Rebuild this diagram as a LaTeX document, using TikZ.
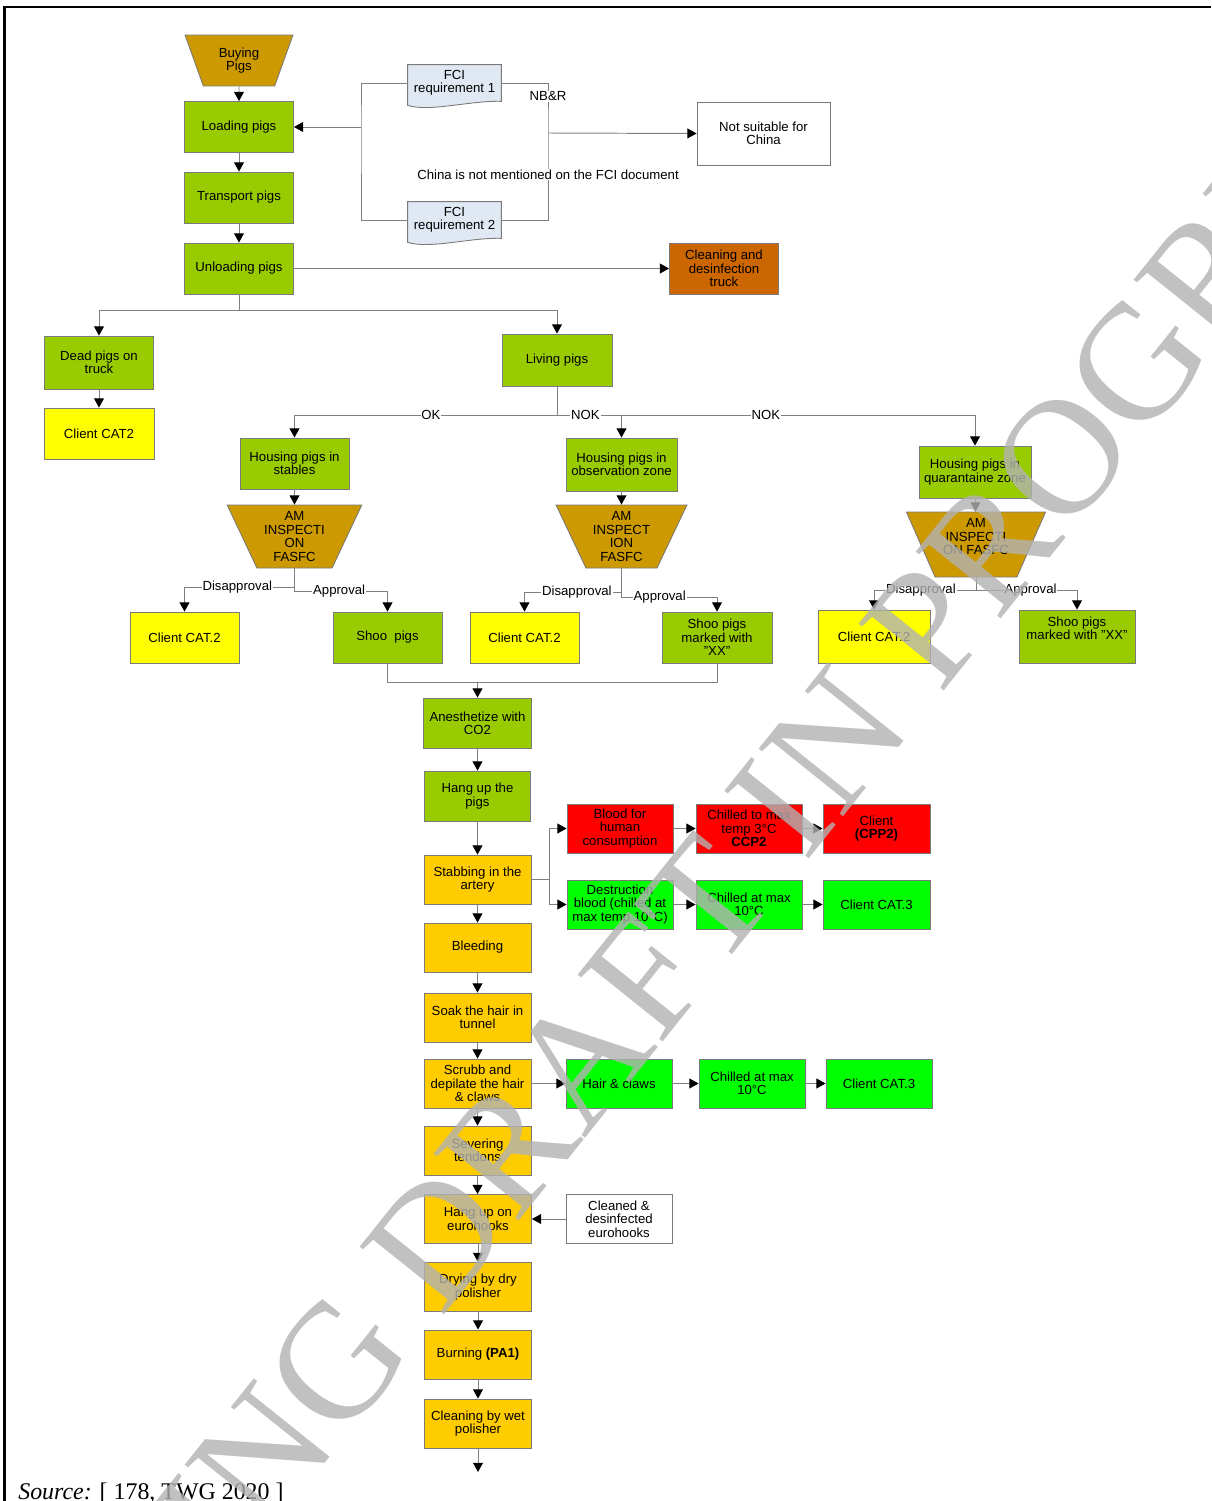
\documentclass[tikz,border=0pt]{standalone}
\usepackage{fontspec}
\setmainfont{Liberation Sans}
\newfontfamily\sourceFont{Liberation Serif}
\usetikzlibrary{arrows.meta,shapes.geometric,calc,backgrounds}

\definecolor{pigGreen}{HTML}{99CC00}
\definecolor{pigGold}{HTML}{CC9900}
\definecolor{pigYellow}{HTML}{FFFF00}
\definecolor{pigAmber}{HTML}{FFCC00}
\definecolor{pigRed}{HTML}{FF0000}
\definecolor{pigLime}{HTML}{00FF00}
\definecolor{pigRust}{HTML}{CC6600}
\definecolor{pigPaper}{HTML}{E0E8F4}
\definecolor{pigEdge}{HTML}{7A7A7A}
\definecolor{pigWire}{HTML}{7F7F7F}

\begin{document}
\begin{tikzpicture}[x=0.02cm, y=-0.02cm,
    slaughterBox/.style={draw=pigEdge, line width=0.5pt, fill=pigGreen, minimum width=2.18cm, minimum height=1.02cm, inner sep=1pt, align=center, font=\fontsize{7.5}{7.6}\selectfont},
    slaughterStep/.style={slaughterBox, fill=pigAmber, minimum width=2.14cm, minimum height=0.98cm},
    slaughterSide/.style={slaughterBox, minimum width=2.12cm, minimum height=0.98cm},
    slaughterTrap/.style={slaughterBox, fill=pigGold, trapezium, shape border rotate=180, trapezium stretches=true, trapezium angle=64, inner sep=0pt},
    slaughterDoc/.style={minimum width=1.86cm, minimum height=0.72cm, inner sep=1pt, align=center, font=\fontsize{7.5}{7.6}\selectfont},
    slaughterLabel/.style={fill=white, inner sep=0.5pt, font=\fontsize{7.5}{7.6}\selectfont},
    slaughterLine/.style={draw=pigWire, line width=0.55pt},
    slaughterArrow/.style={slaughterLine, -{Triangle[width=5.6pt, length=5.2pt, color=black]}}]
    \useasboundingbox (0,0) rectangle (1211,1501);

    % Page frame
    \draw[line width=0.048cm] (4.5,1501) -- (4.5,7) -- (1211,7);

    % Arrival
    \node[slaughterTrap, trapezium angle=68, minimum width=2.16cm, minimum height=1.02cm] (pigBuy) at (239, 60.5) {Buying\\Pigs};
    \node[slaughterBox] (pigLoad) at (239, 127) {Loading pigs};
    \node[slaughterBox] (pigTransport) at (239, 197.5) {Transport pigs};
    \node[slaughterBox] (pigUnload) at (239, 268.5) {Unloading pigs};
    \node[slaughterDoc] (fciOne) at (454.5, 83) {FCI\\requirement 1};
    \node[slaughterDoc] (fciTwo) at (454.5, 220) {FCI\\requirement 2};
    \node[slaughterBox, fill=white, minimum width=2.66cm, minimum height=1.26cm] (pigNoChina) at (763.5, 133.5) {Not suitable for\\China};
    \node[slaughterBox, fill=pigRust] (pigTruckClean) at (724, 268.5) {Cleaning and\\desinfection\\truck};

    \begin{pgfonlayer}{background}
        \filldraw[draw=pigEdge, fill=pigPaper, line width=0.5pt] (fciOne.north west) -- (fciOne.north east) -- (fciOne.south east) .. controls +(-31,-1) and +(22,7) .. ($(fciOne.south west)+(0,4)$) -- cycle;
        \filldraw[draw=pigEdge, fill=pigPaper, line width=0.5pt] (fciTwo.north west) -- (fciTwo.north east) -- (fciTwo.south east) .. controls +(-31,-1) and +(22,7) .. ($(fciTwo.south west)+(0,4)$) -- cycle;
    \end{pgfonlayer}

    % Dead and living pigs
    \node[slaughterBox, minimum height=1.06cm] (pigDead) at (99, 362.5) {Dead pigs on\\truck};
    \node[slaughterBox, fill=pigYellow, minimum width=2.2cm] (pigDeadClient) at (99, 433.5) {Client CAT2};
    \node[slaughterBox, minimum width=2.2cm, minimum height=1.04cm] (pigLiving) at (557, 360) {Living pigs};

    % Housing
    \node[slaughterBox] (houseStable) at (294.5, 463.5) {Housing pigs in\\stables};
    \node[slaughterBox, minimum width=2.22cm, minimum height=1.06cm] (houseObserve) at (621.5, 464.5) {Housing pigs in\\observation zone};
    \node[slaughterBox, minimum width=2.24cm, minimum height=1.04cm] (houseQuarantine) at (975, 472) {Housing pigs in\\quarantaine zone};

    % Ante mortem inspection
    \node[slaughterTrap, minimum width=2.7cm, minimum height=1.26cm] (inspStable) at (294.5, 536.5) {AM\\INSPECTI\\ON\\FASFC};
    \node[slaughterTrap, minimum width=2.62cm, minimum height=1.26cm] (inspObserve) at (621.5, 536.5) {AM\\INSPECT\\ION\\FASFC};
    \node[slaughterTrap, trapezium angle=66, minimum width=2.8cm, minimum height=1.3cm, text depth=0.32cm] (inspQuarantine) at (976, 544.5) {AM\\INSPECTI\\ON FASFC};

    \node[slaughterBox, fill=pigYellow] (catStable) at (184.5, 637.5) {Client CAT.2};
    \node[slaughterBox] (shooStable) at (387.5, 637.5) {Shoo~ pigs};
    \node[slaughterBox, fill=pigYellow] (catObserve) at (524.5, 637.5) {Client CAT.2};
    \node[slaughterBox, minimum width=2.2cm] (shooObserve) at (717, 637.5) {Shoo pigs\\marked with\\"XX"};
    \node[slaughterBox, fill=pigYellow, minimum width=2.24cm, minimum height=1.06cm] (catQuarantine) at (874, 636.5) {Client CAT.2};
    \node[slaughterBox, minimum width=2.32cm, minimum height=1.06cm, text depth=0.32cm] (shooQuarantine) at (1077, 636.5) {Shoo pigs\\marked with "XX"};

    % Slaughter line
    \node[slaughterBox, minimum width=2.16cm, minimum height=1.0cm] (slAnesth) at (477.5, 723) {Anesthetize with\\CO2};
    \node[slaughterBox, minimum width=2.12cm, minimum height=1.0cm] (slHang) at (477.5, 796) {Hang up the\\pigs};
    \node[slaughterStep] (slStab) at (477.5, 879.5) {Stabbing in the\\artery};
    \node[slaughterStep] (slBleed) at (477.5, 947.5) {Bleeding};
    \node[slaughterStep] (slSoak) at (477.5, 1017.5) {Soak the hair in\\tunnel};
    \node[slaughterStep] (slScrub) at (477.5, 1083.5) {Scrubb and\\depilate the hair\\\& claws};
    \node[slaughterStep] (slTendon) at (477.5, 1150.5) {Severing\\tendons};
    \node[slaughterStep] (slHook) at (478, 1219) {Hang up on\\eurohooks};
    \node[slaughterStep] (slDry) at (478, 1287) {Drying by dry\\polisher};
    \node[slaughterStep] (slBurn) at (478, 1354.5) {Burning \textbf{(PA1)}};
    \node[slaughterStep] (slPolish) at (478, 1423.5) {Cleaning by wet\\polisher};

    % Blood
    \node[slaughterSide, fill=pigRed] (bloodHuman) at (620, 828.5) {Blood for\\human\\consumption};
    \node[slaughterSide, fill=pigRed] (bloodChill) at (749, 828.5) {Chilled to max\\temp 3°C\\\textbf{CCP2}};
    \node[slaughterSide, fill=pigRed, minimum width=2.14cm] (bloodClient) at (876.5, 828.5) {Client\\\textbf{(CPP2)}};
    \node[slaughterSide, fill=pigLime] (bloodWaste) at (620, 904.5) {Destruction\\blood (chilled at\\max temp 10°C)};
    \node[slaughterSide, fill=pigLime] (wasteChill) at (749, 904.5) {Chilled at max\\10°C};
    \node[slaughterSide, fill=pigLime, minimum width=2.14cm] (wasteClient) at (876.5, 904.5) {Client CAT.3};

    % Hair and hooks
    \node[slaughterSide, fill=pigLime] (hairClaw) at (619, 1083.5) {Hair \& claws};
    \node[slaughterSide, fill=pigLime] (hairChill) at (752, 1083.5) {Chilled at max\\10°C};
    \node[slaughterSide, fill=pigLime] (hairClient) at (879, 1083.5) {Client CAT.3};
    \node[slaughterSide, fill=white] (hookSupply) at (619, 1219) {Cleaned \&\\desinfected\\eurohooks};

    \coordinate (fciLeft) at (361, 127);
    \coordinate (fciRight) at (548, 133);
    \coordinate (unloadSplit) at (239, 310);
    \coordinate (livingSplit) at (557, 415);
    \coordinate (shooJoin) at (477.5, 682);
    \coordinate (stabFork) at (549, 879.5);
    \coordinate (polishOut) at (478, 1472);

    \draw[slaughterArrow] (pigBuy) -- (pigLoad);
    \draw[slaughterArrow] (pigLoad) -- (pigTransport);
    \draw[slaughterArrow] (pigTransport) -- (pigUnload);
    \draw[slaughterArrow] (pigUnload) -- (pigTruckClean);

    \draw[slaughterLine] (fciOne.west) -| (fciLeft) |- (fciTwo.west);
    \draw[slaughterArrow] (fciLeft) -- (pigLoad.east);
    \draw[slaughterLine] (fciOne.east) -| node[slaughterLabel, pos=0.63] {NB\&R} (fciRight) |- node[slaughterLabel, pos=0.24] {China is not mentioned on the FCI document} (fciTwo.east);
    \draw[slaughterArrow] (fciRight) -- (pigNoChina.west);

    \draw[slaughterLine] (pigUnload) -- (unloadSplit);
    \draw[slaughterArrow] (unloadSplit) -| (pigDead.north);
    \draw[slaughterArrow] (unloadSplit) -| (pigLiving.north);
    \draw[slaughterArrow] (pigDead) -- (pigDeadClient);

    \draw[slaughterLine] (pigLiving) -- (livingSplit);
    \draw[slaughterArrow] (livingSplit) -| node[slaughterLabel, pos=0.25] {NOK} (houseQuarantine.north);
    \draw[slaughterArrow] (livingSplit) -| node[slaughterLabel, pos=0.22] {NOK} (houseObserve.north);
    \draw[slaughterArrow] (livingSplit) -| node[slaughterLabel, pos=0.24] {OK} (houseStable.north);

    \draw[slaughterArrow] (houseStable) -- (inspStable);
    \draw[slaughterArrow] (houseObserve) -- (inspObserve);
    \draw[slaughterArrow] (houseQuarantine) -- (inspQuarantine);

    \draw[slaughterArrow] (inspStable.south) -- ++(0,19) -| node[slaughterLabel, pos=0.26] {Disapproval} (catStable.north);
    \draw[slaughterArrow] (inspStable.south) -- ++(0,23) -| node[slaughterLabel, pos=0.24] {Approval} (shooStable.north);
    \draw[slaughterArrow] (inspObserve.south) -- ++(0,24) -| node[slaughterLabel, pos=0.23] {Disapproval} (catObserve.north);
    \draw[slaughterArrow] (inspObserve.south) -- ++(0,29) -| node[slaughterLabel, pos=0.2] {Approval} (shooObserve.north);
    \draw[slaughterArrow] (inspQuarantine.south) -- ++(0,13) -| node[slaughterLabel, pos=0.27] {Disapproval} (catQuarantine.north);
    \draw[slaughterArrow] (inspQuarantine.south) -- ++(0,13) -| node[slaughterLabel, pos=0.27] {Approval} (shooQuarantine.north);

    \draw[slaughterLine] (shooStable.south) |- (shooJoin);
    \draw[slaughterLine] (shooObserve.south) |- (shooJoin);
    \draw[slaughterArrow] (shooJoin) -- (slAnesth.north);

    \draw[slaughterArrow] (slAnesth) -- (slHang);
    \draw[slaughterArrow] (slHang) -- (slStab);
    \draw[slaughterArrow] (slStab) -- (slBleed);
    \draw[slaughterArrow] (slBleed) -- (slSoak);
    \draw[slaughterArrow] (slSoak) -- (slScrub);
    \draw[slaughterArrow] (slScrub) -- (slTendon);
    \draw[slaughterArrow] (slTendon.south) -- (slHook.north -| slTendon.south);
    \draw[slaughterArrow] (slHook) -- (slDry);
    \draw[slaughterArrow] (slDry) -- (slBurn);
    \draw[slaughterArrow] (slBurn) -- (slPolish);
    \draw[slaughterArrow] (slPolish) -- (polishOut);

    \draw[slaughterLine] (slStab) -- (stabFork);
    \draw[slaughterArrow] (stabFork) |- (bloodHuman.west);
    \draw[slaughterArrow] (stabFork) |- (bloodWaste.west);
    \draw[slaughterArrow] (bloodHuman) -- (bloodChill);
    \draw[slaughterArrow] (bloodChill) -- (bloodClient);
    \draw[slaughterArrow] (bloodWaste) -- (wasteChill);
    \draw[slaughterArrow] (wasteChill) -- (wasteClient);

    \draw[slaughterArrow] (slScrub) -- (hairClaw);
    \draw[slaughterArrow] (hairClaw) -- (hairChill);
    \draw[slaughterArrow] (hairChill) -- (hairClient);
    \draw[slaughterArrow] (hookSupply) -- (slHook);

    % Source line
    \node[anchor=base west, inner sep=0pt, font=\sourceFont\fontsize{13.6}{14}\selectfont] (srcNote) at (18, 1499) {\textit{Source:} [ 178, TWG 2020 ]};

    % Watermark
    \node[rotate=51.3, inner sep=0pt, text=black!30, text opacity=0.8, font=\sourceFont\fontsize{94}{94}\selectfont] (draftMark) at (648, 975) {WORKING DRAFT IN PROGRESS};
\end{tikzpicture}
\end{document}
